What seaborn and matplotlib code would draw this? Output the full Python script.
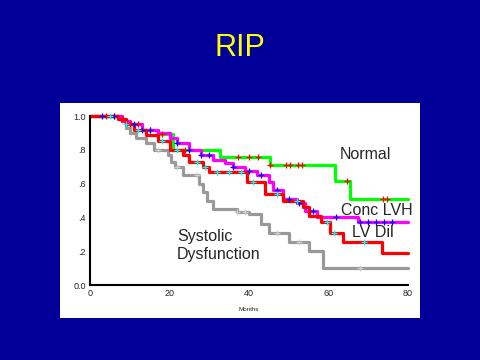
import numpy as np
import matplotlib
matplotlib.use('Agg')
import matplotlib.pyplot as plt
import seaborn as sns
from matplotlib.patches import Rectangle

# Kaplan-Meier step curves (months, survival)
normal_t = [0, 7, 9, 13, 17, 21, 32.7, 45.3, 61.6, 65.4, 80]
normal_s = [1.0, 0.98, 0.95, 0.92, 0.895, 0.80, 0.76, 0.71, 0.615, 0.51, 0.51]

lvh_t = [0, 8, 10, 13, 17, 20, 22, 25, 28, 31, 34, 36, 39, 42, 45, 46, 48.5, 52, 54, 57, 67.4, 80]
lvh_s = [1.0, 0.97, 0.95, 0.92, 0.90, 0.87, 0.84, 0.80, 0.77, 0.74, 0.72, 0.70, 0.675, 0.65, 0.61, 0.56,
         0.51, 0.485, 0.44, 0.40, 0.375, 0.375]

dil_t = [0, 7, 9, 11, 14, 17, 20, 23.5, 25, 28.5, 30, 39.5, 44, 48.5, 53.5, 55, 58, 60.4, 63.7, 73.4, 80]
dil_s = [1.0, 0.98, 0.95, 0.92, 0.89, 0.85, 0.80, 0.77, 0.73, 0.70, 0.67, 0.61, 0.54, 0.50, 0.46, 0.41,
         0.37, 0.31, 0.256, 0.19, 0.19]

sys_t = [0, 8, 9, 10, 11.5, 14, 16, 19.5, 20.5, 21.5, 23.5, 27.5, 28.5, 29.5, 31, 37, 40, 43, 45, 50, 55,
         58.5, 80]
sys_s = [1.0, 0.97, 0.93, 0.90, 0.87, 0.84, 0.80, 0.77, 0.73, 0.70, 0.65, 0.60, 0.55, 0.50, 0.45, 0.43,
         0.42, 0.36, 0.31, 0.256, 0.20, 0.10, 0.10]

# censored observation times
normal_cens = [4, 6, 8, 10, 12, 15, 18, 24, 37.3, 40, 42.3, 45.3, 49.3, 50.3, 52.3, 53.3, 64.6, 73.7, 74.7]
lvh_cens = [3, 6, 11, 13, 15, 22, 25, 28, 30, 36, 40, 43, 47, 50, 52.5, 56, 62, 68, 70, 72, 74, 76]
dil_cens = [5, 9, 12, 18, 22, 27, 29, 32, 35, 38, 41, 47, 52, 59.5, 61.5, 69]
sys_cens = [17, 22, 27, 37, 39, 47, 52.5, 68]


def surv_at(times, t, s):
    idx = np.searchsorted(t, times, side='right') - 1
    return np.array(s)[idx]


sns.set_style('white')
plt.rcParams['font.family'] = ['Liberation Sans', 'DejaVu Sans']

fig = plt.figure(figsize=(4.8, 3.6), dpi=100, facecolor='#000099')
panel = Rectangle((0.125, 0.1167), 0.75, 0.597, transform=fig.transFigure,
                  facecolor='white', edgecolor='none', zorder=-10)
fig.patches.append(panel)
fig.text(0.5, 0.866, 'RIP', color='#FFFF00', fontsize=22, ha='center', va='center')

ax = fig.add_axes([0.1875, 0.2083, 0.6625, 0.4694])
ax.set_facecolor('white')

curves = [
    (sys_t, sys_s, sys_cens, '#999999', '#D0D0D0'),
    (normal_t, normal_s, normal_cens, '#00FF00', '#FF0000'),
    (lvh_t, lvh_s, lvh_cens, '#FF00FF', '#0000FF'),
    (dil_t, dil_s, dil_cens, '#FF0000', '#00FFFF'),
]
for t, s, cens, col, mcol in curves:
    sns.lineplot(x=t, y=s, drawstyle='steps-post', color=col, lw=2.3, ax=ax,
                 estimator=None, sort=False, clip_on=False)
    sns.scatterplot(x=cens, y=surv_at(cens, t, s), marker='+', color=mcol, s=16,
                    linewidth=0.9, ax=ax, clip_on=False, zorder=5)

ax.set_xlim(0, 80)
ax.set_ylim(0, 1.0)
ax.set_xticks([0, 20, 40, 60, 80])
ax.set_yticks([0, 0.2, 0.4, 0.6, 0.8, 1.0])
ax.set_yticklabels(['0.0', '.2', '.4', '.6', '.8', '1.0'])
ax.tick_params(direction='out', length=2, width=2, labelsize=6.5, pad=1, color='black')
for side in ['top', 'right']:
    ax.spines[side].set_visible(False)
for side in ['left', 'bottom']:
    ax.spines[side].set_linewidth(1.5)
    ax.spines[side].set_color('black')
ax.set_xlabel('Months', fontsize=4.5, labelpad=6)
ax.set_ylabel('')

ax.text(62.9, 0.77, 'Normal', fontsize=11.5, va='center')
ax.text(63.1, 0.438, 'Conc LVH', fontsize=11.5, va='center')
ax.text(65.9, 0.308, 'LV Dil', fontsize=11.5, va='center')
ax.text(21.9, 0.29, 'Systolic', fontsize=11.5, va='center')
ax.text(21.9, 0.178, 'Dysfunction', fontsize=11.5, va='center')

fig.savefig('out.png', dpi=100, facecolor=fig.get_facecolor())
